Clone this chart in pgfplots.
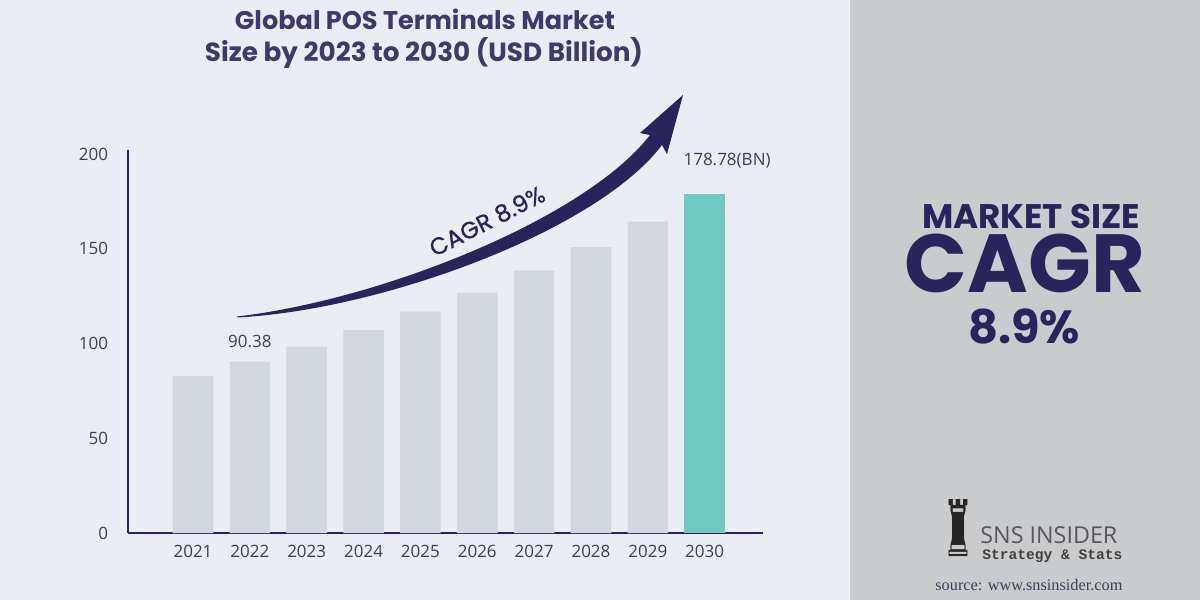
\documentclass[border=0pt]{standalone}
\usepackage{pgfplots}
\pgfplotsset{compat=1.18}
\usepackage{fontspec}
\usepackage{graphicx}
\setmainfont{Open Sans}
\newfontfamily\pop{Poppins}
\newfontfamily\popcagr{Poppins}[FakeBold=0.9]
\newfontfamily\dejavu{DejaVu Sans}
\newfontfamily\monox{Liberation Mono}
\newfontfamily\serifx{Liberation Serif}
\definecolor{leftbg}{RGB}{235,237,244}
\definecolor{rightbg}{RGB}{201,203,204}
\definecolor{bargray}{RGB}{211,215,222}
\definecolor{tealbar}{RGB}{109,201,193}
\definecolor{navy}{RGB}{40,36,92}
\definecolor{ticktext}{RGB}{62,62,88}
\definecolor{logogray}{RGB}{88,88,92}
\begin{document}
\begin{tikzpicture}
\begin{scope}[x=0.5pt,y=-0.5pt]
\useasboundingbox (0,0) rectangle (1200,600);
\fill[leftbg] (0,0) rectangle (850,600);
\fill[rightbg] (850,0) rectangle (1200,600);
% title
\node[anchor=base, inner sep=0, text=navy!90] at (425,29) {\resizebox{190pt}{!}{\pop\bfseries Global POS Terminals Market}};
\node[anchor=base, inner sep=0, text=navy!90] at (424,61) {\resizebox{219pt}{!}{\pop\bfseries Size by 2023 to 2030 (USD Billion)}};
% right panel
\node[anchor=base, inner sep=0, text=navy] at (1031,228) {\resizebox{109pt}{!}{\pop\bfseries MARKET SIZE}};
\node[anchor=base, inner sep=0, text=navy] at (1025,292) {\resizebox{120pt}{!}{\pop\bfseries CAGR}};
\node[anchor=base, inner sep=0, text=navy] at (1024,343) {\resizebox{56pt}{!}{\pop\bfseries 8.9\%}};
% logo
\node[anchor=south, inner sep=0, text=black!85] at (958,557) {\resizebox{15pt}{28.5pt}{\dejavu ♜}};
\node[anchor=base west, inner sep=0, text=logogray] at (980,543) {\resizebox{68.5pt}{!}{SNS INSIDER}};
\node[anchor=base west, inner sep=0, text=black!75] at (982,559) {\resizebox{70pt}{!}{\monox\bfseries Strategy \& Stats}};
\node[anchor=base west, inner sep=0, text=ticktext] at (935,590) {\resizebox{93.5pt}{!}{\serifx source: www.snsinsider.com}};
\end{scope}
\begin{axis}[
  at={(64pt,-266.5pt)}, anchor=south west,
  scale only axis, width=317.5pt, height=191.5pt,
  ybar, bar shift=0pt, bar width=0.714,
  xmin=-1.1434, xmax=10.026, ymin=0, ymax=202.1,
  axis x line=bottom, axis y line=left,
  axis line style={-, draw=navy, line width=1pt},
  major tick length=0pt, tick style={draw=none},
  ytick={0,50,100,150,200},
  xtick={0,1,2,3,4,5,6,7,8,9},
  xticklabels={2021,2022,2023,2024,2025,2026,2027,2028,2029,2030},
  /pgf/number format/assume math mode=true,
  tick label style={font=\fontsize{8.5}{10}\selectfont, text=ticktext, inner sep=0pt},
  yticklabel style={xshift=-9.75pt},
  xticklabel style={yshift=-6pt},
  clip=false,
]
\addplot[draw=none, fill=bargray] coordinates {(0,82.9) (1,90.38) (2,98.4) (3,107.1) (4,116.8) (5,126.8) (6,138.4) (7,150.8) (8,164.3)};
\addplot[draw=none, fill=tealbar] coordinates {(9,178.78)};
\node[text=ticktext, font=\fontsize{8.5}{10}\selectfont, yshift=10pt] at (axis cs:1,90.38) {90.38};
\node[text=ticktext, font=\fontsize{8.5}{10}\selectfont, xshift=11.2pt, yshift=17pt] at (axis cs:9,178.78) {178.78(BN)};
\end{axis}
\begin{scope}[x=0.5pt,y=-0.5pt]
\fill[navy] (237,316.5) .. controls (380,300) and (585,219) .. (650,135) -- (640,133) -- (683,95) -- (667,154) -- (662,145) .. controls (597,231) and (382,310) .. (237,317.5) -- cycle;
\node[rotate=27, inner sep=0, text=navy] at (487,221) {\resizebox{63pt}{!}{\popcagr CAGR 8.9\%}};
\end{scope}
\end{tikzpicture}
\end{document}
